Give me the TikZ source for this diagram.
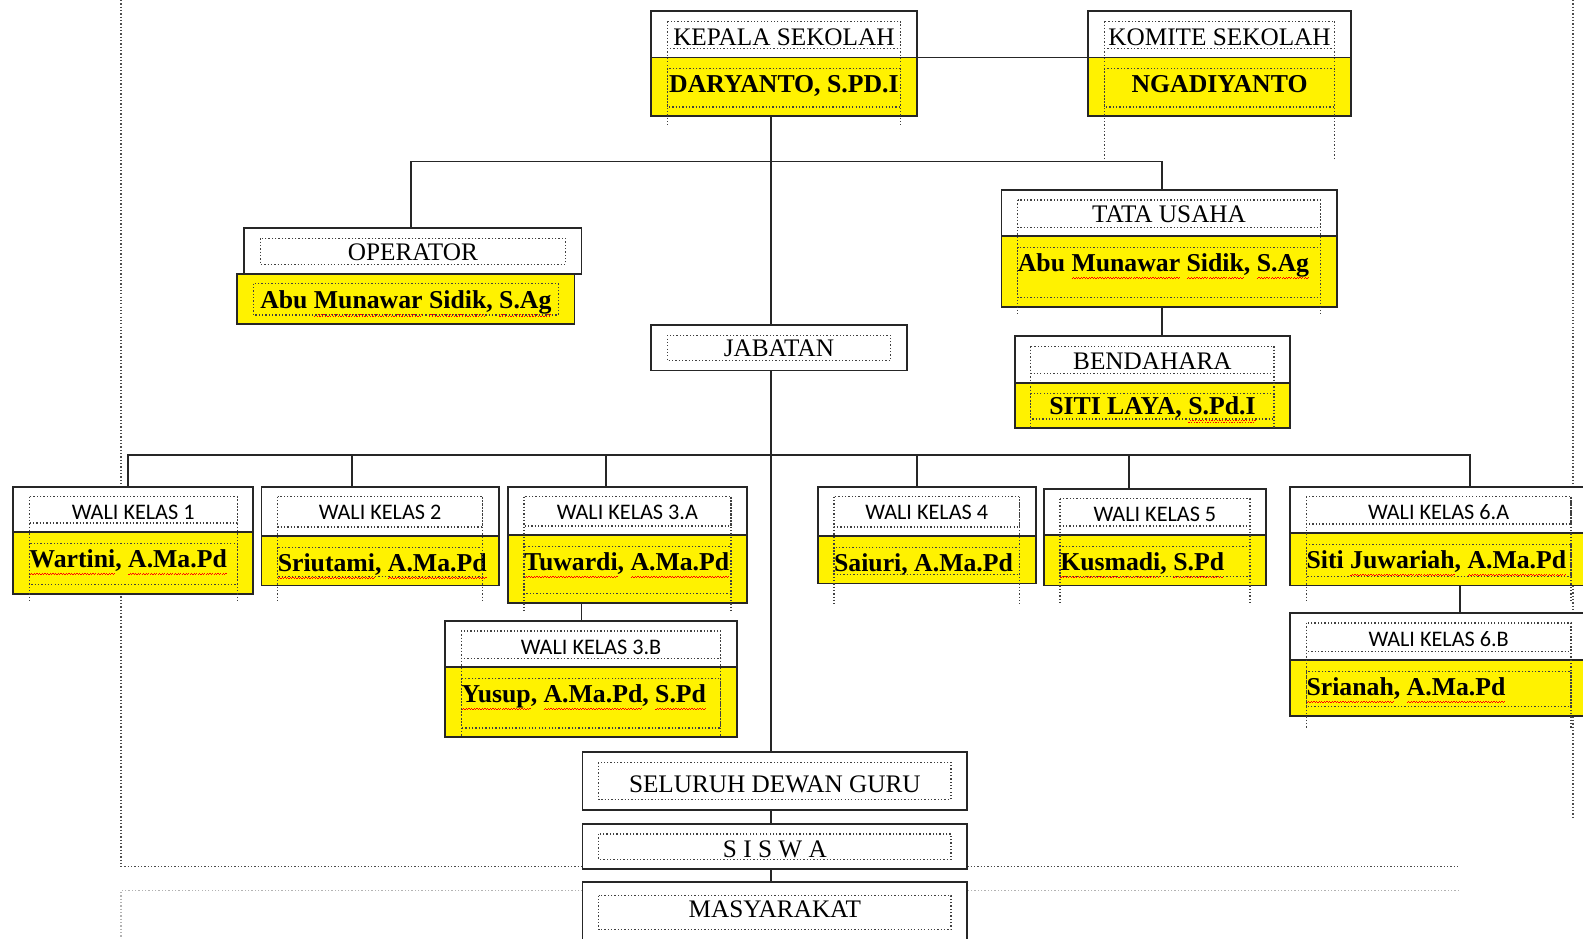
\documentclass[tikz,border=0pt]{standalone}
\usepackage{fontspec}
\setmainfont{Liberation Serif}
\newfontfamily\calib{Carlito}
\usetikzlibrary{fit}
\newsavebox\sqbox
\newcommand\sq[1]{\leavevmode\sbox\sqbox{#1}\rlap{\color{red}\hbox to\wd\sqbox{\xleaders\hbox{\rule[-7.6pt]{1.3pt}{1pt}\rule[-6.4pt]{1.3pt}{1pt}}\hfill}}\usebox\sqbox}
\newcommand\twofr[6]{%
  \draw[frame] (#1+16,#3+10) rectangle (#2-16,#4-9);
  \draw[frame] (#1+16,#4+11) rectangle (#2-16,#5-9);
  \draw[frame] (#1+16,#3+10) -- (#1+16,#6) (#2-16,#3+10) -- (#2-16,#6);}
\newcommand\onefr[4]{%
  \draw[frame] (#1+16,#3+10) rectangle (#2-16,#4-10);}
% text placement helpers
\newcommand\ttl[3]{\node[tt, anchor=base] (#1t) at ([yshift=-#2pt]#1.north) {#3};}
\newcommand\wkt[2]{\node[wkt, anchor=base] (#1t) at ([yshift=-33pt]#1.north) {#2};}
\newcommand\nmc[2]{\node[nm, anchor=base] (#1t) at ([yshift=-35pt]#1.north) {#2};}
\newcommand\nml[2]{\node[nm, anchor=base west] (#1t) at ([xshift=16pt,yshift=-35pt]#1.north west) {#2};}
\begin{document}
\begin{tikzpicture}[x=1pt,y=-1pt,
  part/.style={draw=black!85, line width=1.8pt, inner sep=0pt, outer sep=0pt},
  wt/.style={part, fill=white},
  yl/.style={part, fill=yellow},
  tt/.style={inner sep=0pt, font=\fontsize{25}{28}\selectfont},
  wkt/.style={inner sep=0pt, font=\calib\fontsize{22}{24}\selectfont},
  nm/.style={inner sep=0pt, font=\bfseries\fontsize{25.5}{28}\selectfont},
  conn/.style={draw=black!85, line width=1.8pt},
  frame/.style={draw=black!75, line width=1.3pt, dotted},
  pagedot/.style={draw=black!70, line width=1.3pt, dotted},
  pagegray/.style={draw=black!30, line width=1.3pt, dotted}]
\useasboundingbox (0,0) rectangle (1568,930);
\fill[white] (0,0) rectangle (1568,930);

% page margins
\draw[pagedot] (120,0) -- (120,858) -- (1445,858);
\draw[pagedot] (1558,0) -- (1558,482);
\draw[pagedot] (1558,580) -- (1558,607);
\draw[pagedot] (1558,700) -- (1558,812);
\draw[pagegray] (1445,882) -- (120,882) -- (120,930);

% boxes
\node[wt, fit={(645,11)(908,57)}] (kepT) {};
\node[yl, fit={(645,57)(908,115)}] (kepB) {};
\node[wt, fit={(1078,11)(1338,57)}] (komT) {};
\node[yl, fit={(1078,57)(1338,115)}] (komB) {};
\node[wt, fit={(242,226)(576,271)}] (opT) {};
\node[yl, fit={(235,271)(569,321)}] (opB) {};
\node[wt, fit={(992,188)(1324,234)}] (tuT) {};
\node[yl, fit={(992,234)(1324,304)}] (tuB) {};
\node[wt, fit={(1005,333)(1278,379)}] (bdT) {};
\node[yl, fit={(1005,379)(1278,424)}] (bdB) {};
\node[wt, fit={(645,322)(898,367)}] (jab) {};
\node[wt, fit={(13,482)(251,527)}] (w1T) {};
\node[yl, fit={(13,527)(251,588)}] (w1B) {};
\node[wt, fit={(259,482)(494,531)}] (w2T) {};
\node[yl, fit={(259,531)(494,580)}] (w2B) {};
\node[wt, fit={(503,482)(740,530)}] (w3T) {};
\node[yl, fit={(503,530)(740,597)}] (w3B) {};
\node[wt, fit={(810,482)(1026,531)}] (w4T) {};
\node[yl, fit={(810,531)(1026,578)}] (w4B) {};
\node[wt, fit={(1034,484)(1254,530)}] (w5T) {};
\node[yl, fit={(1034,530)(1254,580)}] (w5B) {};
\node[wt, fit={(1278,482)(1572,528)}] (w6T) {};
\node[yl, fit={(1278,528)(1572,580)}] (w6B) {};
\node[wt, fit={(441,615)(730,661)}] (v3T) {};
\node[yl, fit={(441,661)(730,730)}] (v3B) {};
\node[wt, fit={(1278,607)(1572,654)}] (v6T) {};
\node[yl, fit={(1278,654)(1572,709)}] (v6B) {};
\node[wt, fit={(577,745)(958,802)}] (sdg) {};
\node[wt, fit={(577,816)(958,861)}] (sis) {};
\node[wt, fit={(577,874)(958,936)}] (mas) {};

% texts
\ttl{kepT}{34}{KEPALA SEKOLAH}
\nmc{kepB}{DARYANTO, S.PD.I}
\ttl{komT}{34}{KOMITE SEKOLAH}
\nmc{komB}{NGADIYANTO}
\ttl{opT}{32}{OPERATOR}
\nmc{opB}{Abu \sq{Munawar} \sq{Sidik}, \sq{S.Ag}}
\ttl{tuT}{32}{TATA USAHA}
\nml{tuB}{Abu \sq{Munawar} \sq{Sidik}, \sq{S.Ag}}
\ttl{bdT}{33}{BENDAHARA}
\node[nm, anchor=base] (bdBt) at ([yshift=-32pt]bdB.north) {SITI LAYA, \sq{S.Pd.I}};
\ttl{jab}{31}{JABATAN}
\wkt{w1T}{WALI KELAS 1}
\nml{w1B}{\sq{Wartini}, \sq{A.Ma.Pd}}
\wkt{w2T}{WALI KELAS 2}
\nml{w2B}{\sq{Sriutami}, \sq{A.Ma.Pd}}
\wkt{w3T}{WALI KELAS 3.A}
\nml{w3B}{\sq{Tuwardi}, \sq{A.Ma.Pd}}
\wkt{w4T}{WALI KELAS 4}
\nml{w4B}{Saiuri, A.Ma.Pd}
\wkt{w5T}{WALI KELAS 5}
\nml{w5B}{\sq{Kusmadi}, \sq{S.Pd}}
\wkt{w6T}{WALI KELAS 6.A}
\nml{w6B}{Siti \sq{Juwariah}, \sq{A.Ma.Pd}}
\wkt{v3T}{WALI KELAS 3.B}
\nml{v3B}{\sq{Yusup}, \sq{A.Ma.Pd}, \sq{S.Pd}}
\wkt{v6T}{WALI KELAS 6.B}
\nml{v6B}{\sq{Srianah}, \sq{A.Ma.Pd}}
\ttl{sdg}{40}{SELURUH DEWAN GURU}
\ttl{sis}{33}{S I S W A}
\ttl{mas}{35}{MASYARAKAT}

% connectors
\coordinate (kx) at (764,0);
\coordinate (opx) at (407,0);
\coordinate (tux) at (1151,0);
\coordinate (bus1) at (0,160);
\coordinate (bus2) at (0,451);
\coordinate (d1) at (127,0);
\coordinate (d2) at (349,0);
\coordinate (d3) at (600,0);
\coordinate (d4) at (908,0);
\coordinate (d5) at (1118,0);
\coordinate (d6) at (1456,0);
\coordinate (d3b) at (576,0);
\coordinate (d6b) at (1446,0);

\draw[conn] (kepT.south east) -- (komT.south west);
\draw[conn] (kepB.south -| kx) -- (jab.north -| kx);
\draw[conn] (opT.north -| opx) -- (opx |- bus1) -- (tux |- bus1) -- (tuT.north -| tux);
\draw[conn] (tuB.south -| tux) -- (bdT.north -| tux);
\draw[conn] (jab.south -| kx) -- (sdg.north -| kx);
\draw[conn] (w1T.north -| d1) -- (d1 |- bus2) -- (d6 |- bus2) -- (w6T.north -| d6);
\draw[conn] (d2 |- bus2) -- (w2T.north -| d2);
\draw[conn] (d3 |- bus2) -- (w3T.north -| d3);
\draw[conn] (d4 |- bus2) -- (w4T.north -| d4);
\draw[conn] (d5 |- bus2) -- (w5T.north -| d5);
\draw[conn] (w3B.south -| d3b) -- (v3T.north -| d3b);
\draw[conn] (w6B.south -| d6b) -- (v6T.north -| d6b);
\draw[conn] (sdg.south -| kx) -- (sis.north -| kx);
\draw[conn] (sis.south -| kx) -- (mas.north -| kx);

% dotted text-box frames
\twofr{645}{908}{11}{57}{115}{124}
\twofr{1078}{1338}{11}{57}{115}{158}
\draw[frame] (258,236) rectangle (560,262);
\draw[frame] (251,281) rectangle (553,312);
\twofr{992}{1324}{188}{234}{304}{312}
\twofr{1005}{1278}{333}{379}{424}{424}
\onefr{645}{898}{322}{367}
\twofr{13}{251}{482}{527}{588}{596}
\twofr{259}{494}{482}{531}{580}{596}
\twofr{503}{740}{482}{530}{597}{605}
\twofr{810}{1026}{482}{531}{578}{598}
\twofr{1034}{1254}{484}{530}{580}{598}
\twofr{1278}{1572}{482}{528}{580}{595}
\twofr{441}{730}{615}{661}{730}{730}
\twofr{1278}{1572}{607}{654}{709}{722}
\onefr{577}{958}{745}{802}
\onefr{577}{958}{816}{861}
\draw[frame] (593,887) rectangle (942,921);
\end{tikzpicture}
\end{document}
